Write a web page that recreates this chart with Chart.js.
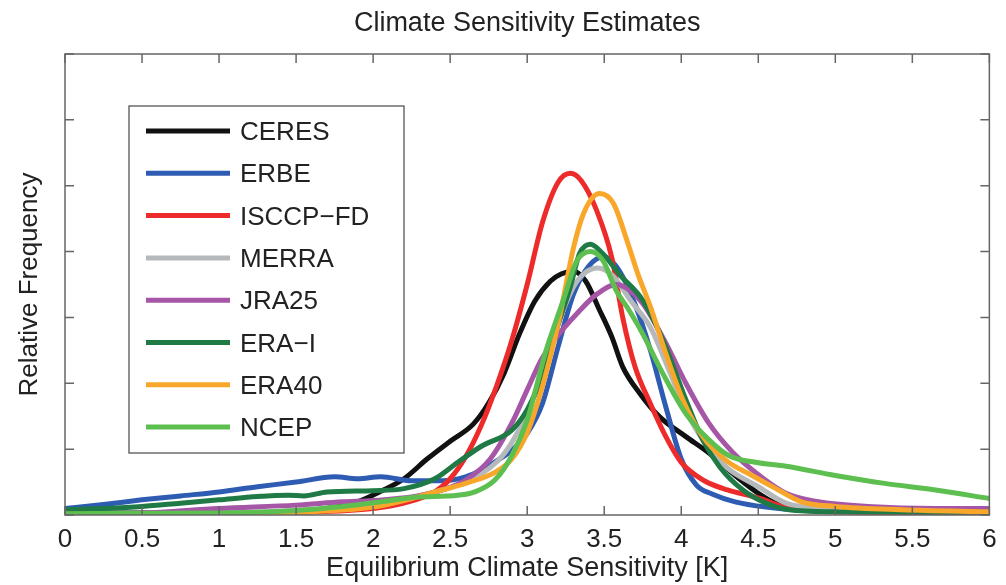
<!DOCTYPE html>
<html lang="en">
<head>
  <meta charset="UTF-8">
  <title>Climate Sensitivity Estimates</title>
  <script src="https://cdn.jsdelivr.net/npm/chart.js"></script>
  <style>
    html, body {
      margin: 0;
      padding: 0;
      background: #fff;
    }
    #wrap {
      width: 1006px;
      height: 585px;
      position: relative;
    }
  </style>
</head>
<body>
  <div id="wrap"><canvas id="sensChart"></canvas></div>

  <script>
    // Series names as in the legend
    const seriesNames = ['CERES', 'ERBE', 'ISCCP\u2212FD', 'MERRA', 'JRA25', 'ERA\u2212I', 'ERA40', 'NCEP'];
    const seriesColors = ['#111111', '#2f5cb3', '#ee2b2b', '#b5b9bc', '#a656a6', '#1f7a46', '#f9a72b', '#5dbf4f'];

    // Equilibrium climate sensitivity [K] (x) and relative frequency (y)
    const ceresK = [0, 0.5, 1.0, 1.5, 1.7, 1.9, 2.05, 2.2, 2.35, 2.5, 2.65, 2.75, 2.85, 2.95, 3.05, 3.15, 3.22, 3.3, 3.38, 3.47, 3.55, 3.62, 3.73, 3.86, 4.03, 4.18, 4.35, 4.5, 4.63, 4.85, 5.0, 6.0];
    const ceresF = [0.03, 0.03, 0.03, 0.05, 0.10, 0.20, 0.36, 0.55, 0.85, 1.12, 1.38, 1.70, 2.15, 2.75, 3.25, 3.55, 3.66, 3.70, 3.55, 3.11, 2.70, 2.25, 1.85, 1.49, 1.19, 0.94, 0.60, 0.33, 0.16, 0.09, 0.07, 0.05];

    const erbeK = [0, 0.25, 0.5, 0.75, 1.0, 1.25, 1.5, 1.75, 1.9, 2.05, 2.25, 2.45, 2.6, 2.7, 2.8, 2.9, 3.0, 3.1, 3.2, 3.3, 3.4, 3.5, 3.6, 3.7, 3.8, 3.9, 4.0, 4.1, 4.2, 4.35, 4.55, 4.8, 5.0, 5.5, 6.0];
    const erbeF = [0.10, 0.16, 0.23, 0.29, 0.35, 0.43, 0.50, 0.58, 0.55, 0.58, 0.52, 0.52, 0.58, 0.68, 0.82, 0.98, 1.24, 1.70, 2.55, 3.35, 3.78, 3.92, 3.70, 3.20, 2.50, 1.64, 0.85, 0.45, 0.32, 0.20, 0.12, 0.07, 0.06, 0.06, 0.08];

    const isccpK = [0, 1.0, 1.5, 2.0, 2.2, 2.4, 2.5, 2.6, 2.7, 2.8, 2.9, 3.0, 3.1, 3.2, 3.28, 3.35, 3.45, 3.55, 3.62, 3.7, 3.8, 3.9, 4.0, 4.15, 4.3, 4.5, 4.7, 5.0, 6.0];
    const isccpF = [0.02, 0.02, 0.04, 0.10, 0.18, 0.35, 0.55, 0.88, 1.35, 1.95, 2.65, 3.50, 4.45, 5.05, 5.19, 5.08, 4.63, 3.90, 3.00, 2.25, 1.69, 1.19, 0.80, 0.52, 0.38, 0.26, 0.10, 0.05, 0.03];

    const merraK = [0, 1.0, 1.5, 2.0, 2.4, 2.6, 2.8, 2.9, 3.0, 3.1, 3.2, 3.3, 3.37, 3.46, 3.56, 3.67, 3.8, 3.92, 4.03, 4.14, 4.29, 4.5, 4.68, 4.9, 5.5, 6.0];
    const merraF = [0.01, 0.03, 0.07, 0.15, 0.35, 0.50, 0.80, 1.10, 1.55, 2.20, 2.90, 3.46, 3.67, 3.75, 3.62, 3.26, 2.85, 2.20, 1.59, 1.14, 0.73, 0.43, 0.18, 0.10, 0.07, 0.06];

    const jraK = [0, 0.5, 1.0, 1.5, 1.8, 2.0, 2.27, 2.45, 2.6, 2.76, 2.91, 3.0, 3.09, 3.19, 3.32, 3.45, 3.58, 3.66, 3.75, 3.9, 4.03, 4.18, 4.33, 4.48, 4.68, 4.89, 5.21, 5.65, 6.0];
    const jraF = [0.01, 0.03, 0.10, 0.15, 0.20, 0.22, 0.28, 0.38, 0.53, 0.85, 1.44, 1.90, 2.35, 2.70, 3.05, 3.35, 3.50, 3.42, 3.21, 2.61, 2.00, 1.39, 0.96, 0.65, 0.33, 0.20, 0.13, 0.10, 0.10];

    const eraiK = [0, 0.25, 0.5, 0.75, 1.0, 1.25, 1.45, 1.55, 1.7, 2.0, 2.2, 2.4, 2.55, 2.7, 2.9, 3.0, 3.1, 3.17, 3.23, 3.28, 3.34, 3.41, 3.49, 3.6, 3.75, 3.88, 4.03, 4.14, 4.25, 4.4, 4.55, 4.7, 5.0, 6.0];
    const eraiF = [0.08, 0.10, 0.13, 0.18, 0.23, 0.28, 0.30, 0.29, 0.35, 0.37, 0.40, 0.55, 0.80, 1.04, 1.29, 1.60, 2.10, 2.66, 3.10, 3.46, 3.97, 4.11, 3.97, 3.65, 3.26, 2.66, 1.75, 1.14, 0.73, 0.38, 0.18, 0.08, 0.05, 0.04];

    const era40K = [0, 1.0, 1.5, 2.0, 2.2, 2.4, 2.6, 2.8, 2.9, 3.0, 3.08, 3.15, 3.21, 3.3, 3.37, 3.47, 3.56, 3.65, 3.72, 3.8, 3.9, 4.01, 4.14, 4.29, 4.46, 4.6, 4.78, 5.0, 5.43, 6.0];
    const era40F = [0.01, 0.02, 0.04, 0.12, 0.22, 0.35, 0.48, 0.66, 0.85, 1.25, 1.80, 2.40, 3.00, 4.05, 4.60, 4.88, 4.73, 4.15, 3.65, 3.16, 2.45, 1.75, 1.19, 0.83, 0.60, 0.42, 0.20, 0.13, 0.08, 0.05];

    const ncepK = [0, 1.0, 1.5, 1.8, 2.05, 2.27, 2.55, 2.66, 2.79, 2.9, 3.0, 3.06, 3.11, 3.18, 3.24, 3.32, 3.41, 3.49, 3.58, 3.65, 3.75, 3.88, 4.03, 4.18, 4.31, 4.48, 4.68, 5.0, 5.32, 5.65, 6.0];
    const ncepF = [0.02, 0.03, 0.07, 0.13, 0.20, 0.27, 0.30, 0.35, 0.53, 0.90, 1.44, 1.95, 2.40, 2.90, 3.30, 3.85, 4.00, 3.87, 3.40, 3.15, 2.75, 2.15, 1.54, 1.14, 0.90, 0.80, 0.74, 0.60, 0.48, 0.38, 0.25];

    const seriesK = [ceresK, erbeK, isccpK, merraK, jraK, eraiK, era40K, ncepK];
    const seriesF = [ceresF, erbeF, isccpF, merraF, jraF, eraiF, era40F, ncepF];

    // Axis ticks (y has no labels, only tick marks)
    const xTicks = [0, 0.5, 1, 1.5, 2, 2.5, 3, 3.5, 4, 4.5, 5, 5.5, 6];
    const yTicks = [0, 1, 2, 3, 4, 5, 6, 7];

    const FONT = '"Liberation Sans", Arial, Helvetica, sans-serif';
    const TEXT = '#222';
    const FRAME = '#666';

    const datasets = seriesNames.map((name, i) => ({
      label: name,
      data: seriesK[i].map((k, j) => ({ x: k, y: seriesF[i][j] })),
      borderColor: seriesColors[i],
      backgroundColor: seriesColors[i],
      borderWidth: 5,
      pointRadius: 0,
      fill: false,
      cubicInterpolationMode: 'monotone',
      borderCapStyle: 'round',
      borderJoinStyle: 'round',
      order: seriesNames.length - i  // later series drawn on top
    }));

    // frame + inward tick marks on all four sides
    const frameTicks = {
      id: 'frameTicks',
      afterDatasetsDraw(chart) {
        const { ctx, chartArea: a, scales } = chart;
        const len = 9;
        ctx.save();
        ctx.strokeStyle = FRAME;
        ctx.lineWidth = 1.5;
        ctx.strokeRect(a.left, a.top, a.right - a.left, a.bottom - a.top);
        ctx.beginPath();
        xTicks.forEach(v => {
          const px = scales.x.getPixelForValue(v);
          ctx.moveTo(px, a.bottom); ctx.lineTo(px, a.bottom - len);
          ctx.moveTo(px, a.top); ctx.lineTo(px, a.top + len);
        });
        yTicks.forEach(v => {
          const py = scales.y.getPixelForValue(v);
          ctx.moveTo(a.left, py); ctx.lineTo(a.left + len, py);
          ctx.moveTo(a.right, py); ctx.lineTo(a.right - len, py);
        });
        ctx.stroke();
        ctx.restore();
      }
    };

    // boxed legend inside the plot, top-left
    const boxLegend = {
      id: 'boxLegend',
      afterDatasetsDraw(chart) {
        const { ctx, chartArea: a } = chart;
        const bx = a.left + 64, by = a.top + 52, bw = 275, bh = 347;
        const rowH = 42.3;
        ctx.save();
        ctx.fillStyle = '#fff';
        ctx.fillRect(bx, by, bw, bh);
        ctx.strokeStyle = '#555';
        ctx.lineWidth = 1.3;
        ctx.strokeRect(bx, by, bw, bh);
        ctx.font = '26px ' + FONT;
        ctx.textBaseline = 'middle';
        ctx.textAlign = 'left';
        chart.data.datasets.forEach((ds, i) => {
          const y = by + 25 + i * rowH;
          ctx.strokeStyle = ds.borderColor;
          ctx.lineWidth = 5;
          ctx.beginPath();
          ctx.moveTo(bx + 17, y);
          ctx.lineTo(bx + 101, y);
          ctx.stroke();
          ctx.fillStyle = TEXT;
          ctx.fillText(ds.label, bx + 111, y + 2);
        });
        ctx.restore();
      }
    };

    const ctx = document.getElementById('sensChart').getContext('2d');
    new Chart(ctx, {
      type: 'line',
      data: { datasets: datasets },
      plugins: [frameTicks, boxLegend],
      options: {
        responsive: true,
        maintainAspectRatio: false,
        animation: false,
        layout: { padding: { left: 0, right: 11, top: 0, bottom: 0 } },
        plugins: {
          legend: { display: false },
          tooltip: { enabled: false },
          title: {
            display: true,
            fullSize: false,
            text: 'Climate Sensitivity Estimates',
            color: TEXT,
            font: { family: FONT, size: 27, weight: 'normal' },
            padding: { top: 7.8, bottom: 13.8 }
          }
        },
        scales: {
          x: {
            type: 'linear',
            min: 0,
            max: 6,
            afterBuildTicks: (scale) => { scale.ticks = xTicks.map(v => ({ value: v })); },
            afterFit: (scale) => { scale.height = 70; },
            grid: { display: false, drawTicks: false },
            border: { display: false },
            ticks: {
              color: TEXT,
              padding: 9.4,
              maxRotation: 0,
              autoSkip: false,
              font: { family: FONT, size: 26 },
              callback: (v) => String(v)
            },
            title: {
              display: true,
              text: 'Equilibrium Climate Sensitivity [K]',
              color: TEXT,
              font: { family: FONT, size: 27 },
              padding: { top: 0, bottom: 0 }
            }
          },
          y: {
            min: 0,
            max: 7,
            afterFit: (scale) => { scale.width = 65; },
            grid: { display: false, drawTicks: false },
            border: { display: false },
            ticks: { display: false, stepSize: 1 },
            title: {
              display: true,
              text: 'Relative Frequency',
              color: TEXT,
              font: { family: FONT, size: 26 },
              padding: { top: 14.4, bottom: 0 }
            }
          }
        }
      }
    });
  </script>
</body>
</html>
